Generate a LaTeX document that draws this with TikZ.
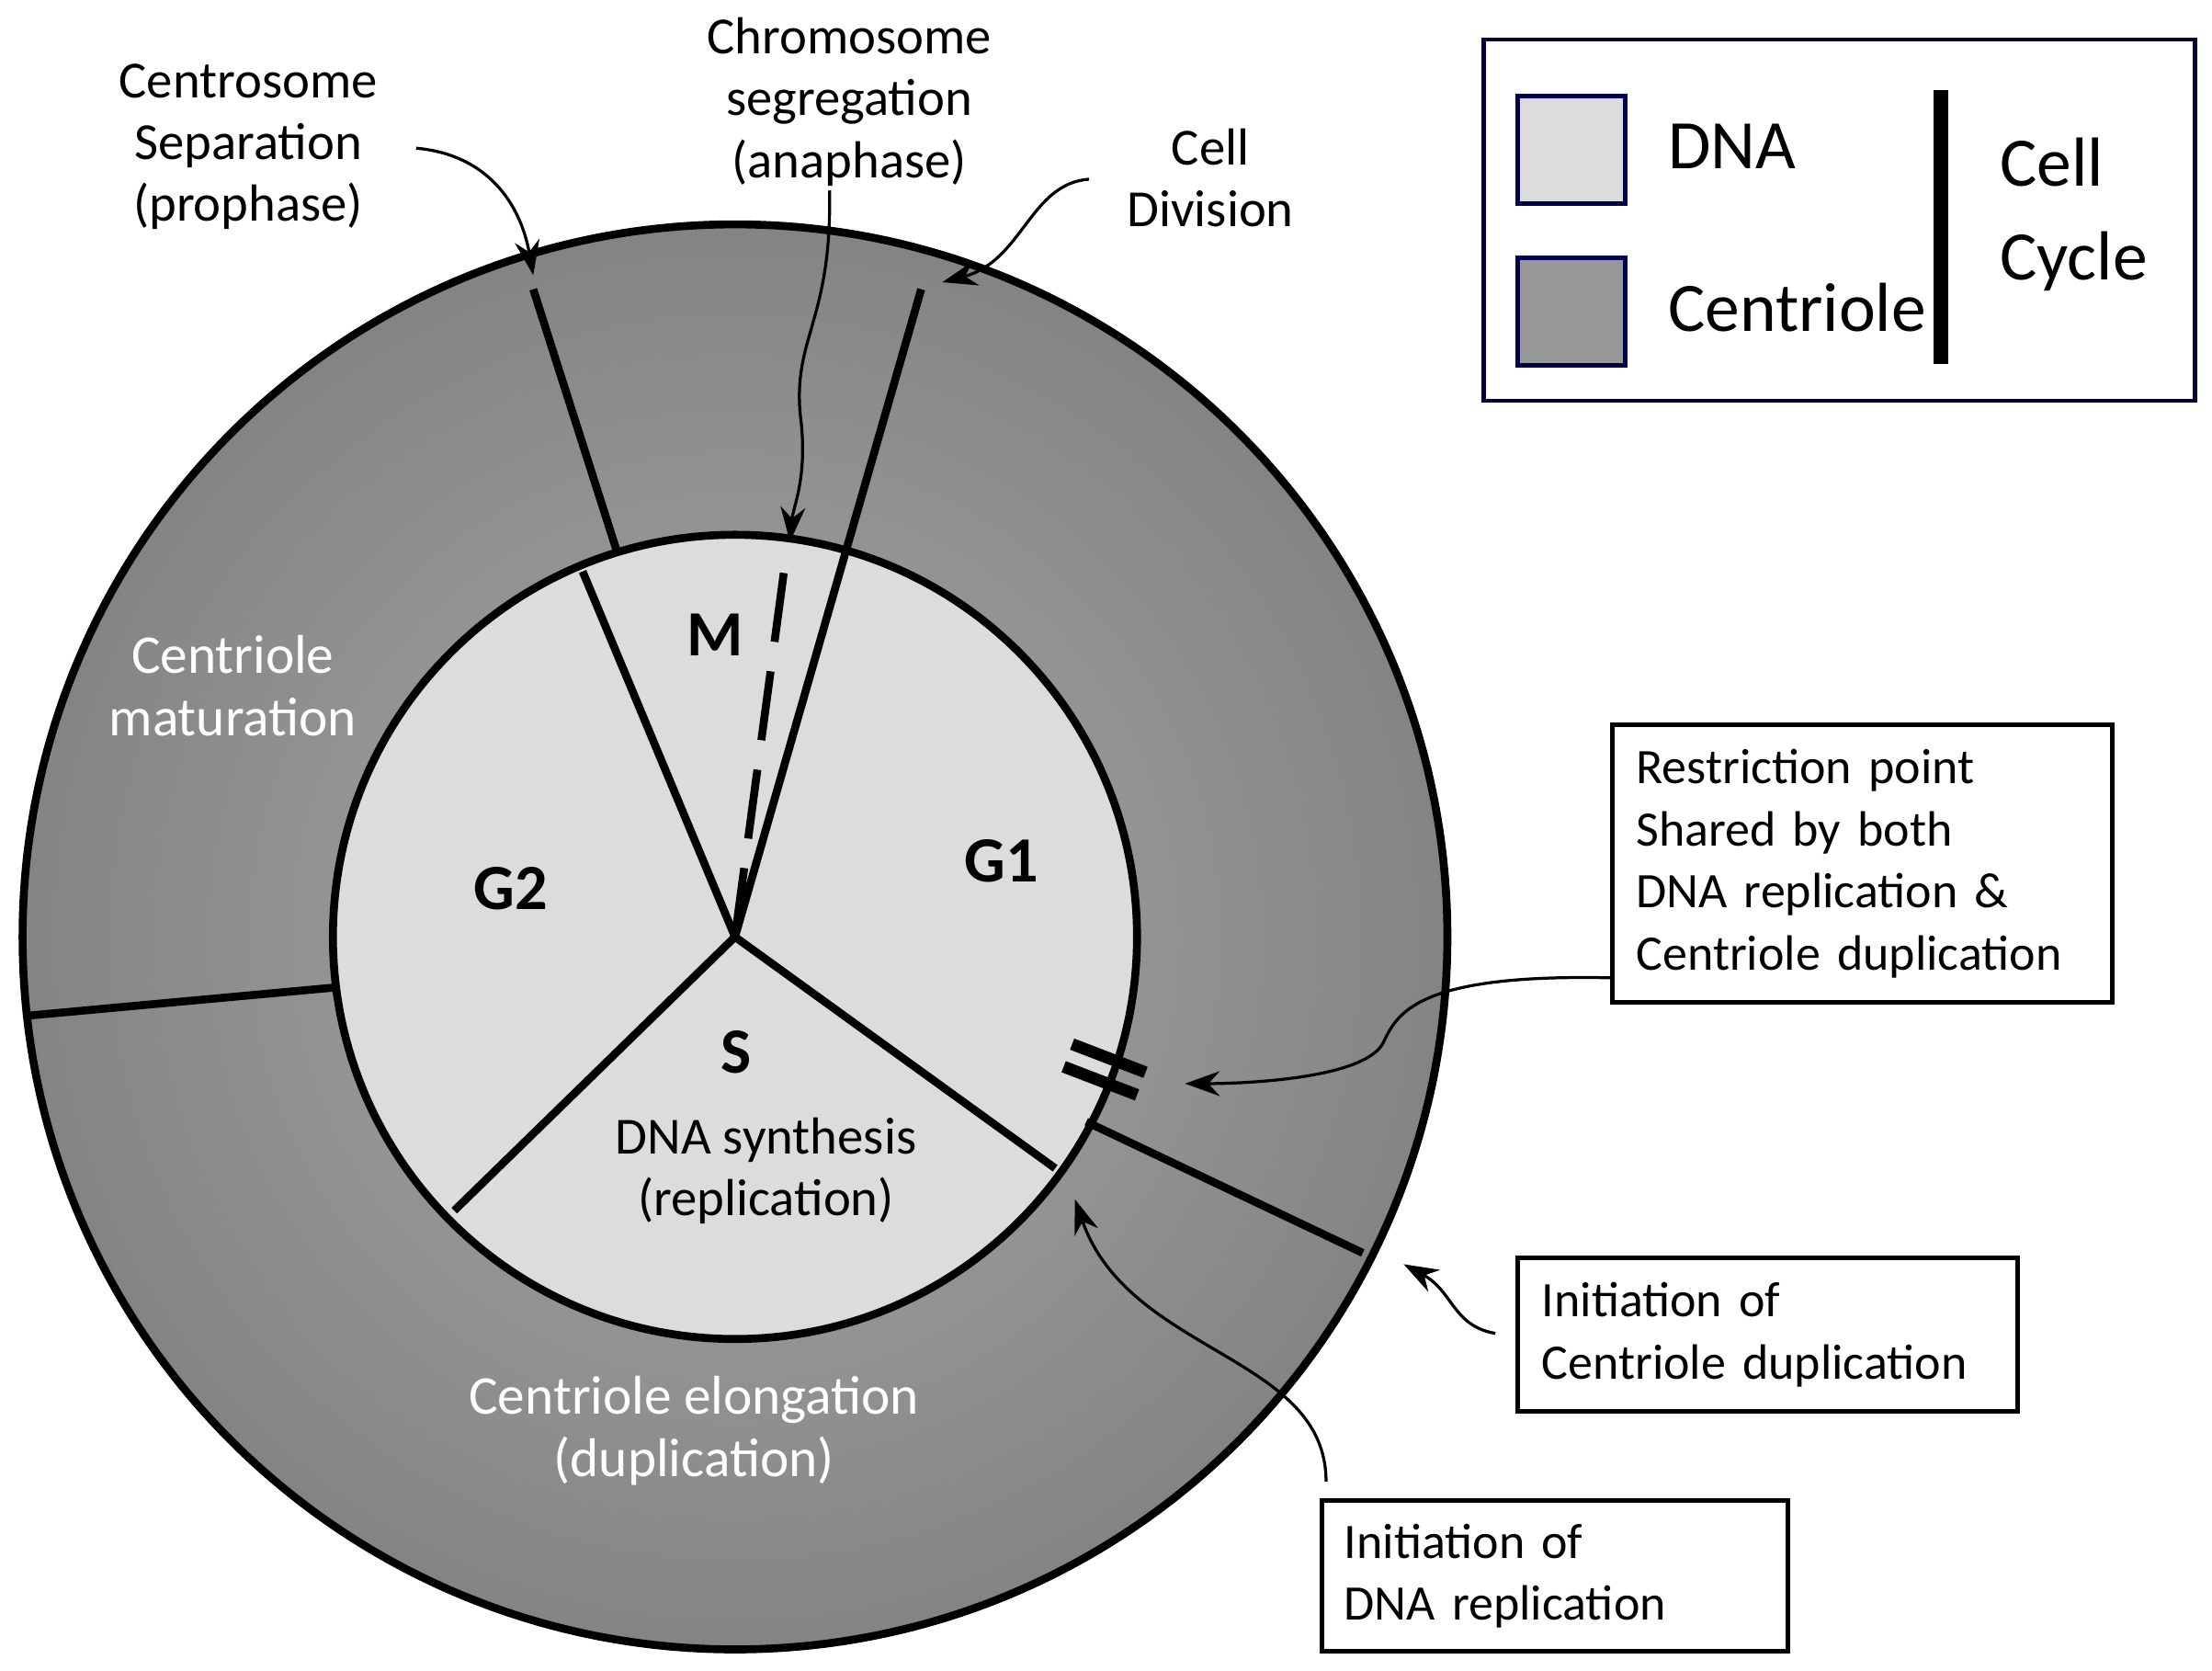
\documentclass[tikz,border=0pt]{standalone}
\usepackage{fontspec}
\setmainfont{Carlito}
\usetikzlibrary{arrows.meta}
\definecolor{outerg}{HTML}{A8A8A8}
\definecolor{outere}{HTML}{848484}
\definecolor{innerg}{HTML}{DCDCDC}
\begin{document}
\begin{tikzpicture}[x=0.01cm,y=-0.01cm,
  lbl/.style={font=\fontsize{10.5}{12.5}\selectfont,align=center},
  wl/.style={font=\fontsize{11}{12.5}\selectfont,align=center,text=white},
  ph/.style={font=\fontsize{13}{15}\selectfont\bfseries},
  box/.style={draw,line width=0.9pt,font=\fontsize{10}{12.5}\selectfont,align=left,inner sep=0pt},
  arr/.style={-{Stealth[length=7pt,width=5pt]},line width=0.6pt},
  seg/.style={line width=1.6pt},
  leg/.style={draw=black!70!blue,line width=0.9pt,minimum size=0.76cm,inner sep=0pt}]
\useasboundingbox (0,0) rectangle (1568,1184);
\coordinate (C) at (521,664);
% outer ring
\shade[inner color=outerg, outer color=outere] (C) circle (505);
\draw[line width=1.6pt] (C) circle (505);
% inner
\fill[innerg] (C) circle (285);
\draw[line width=1.6pt] (C) circle (285);
% boundaries
\coordinate (mg2) at (413,405);
\coordinate (g2s) at (322,858);
\coordinate (sg1) at (748,828);
\coordinate (out1) at (653,205);
\draw[seg] (C) -- (mg2);
\draw[seg] (C) -- (g2s);
\draw[seg] (C) -- (sg1);
\draw[seg] (C) -- (out1);
\draw[seg,dash pattern=on 14pt off 6pt] (C) -- (558,388);
\draw[seg] (378,205) -- (438,393);
\draw[seg] (18,720) -- (236,700);
\draw[seg] (770,795) -- (966,888);
% restriction mark
\draw[line width=2.4pt] (760,740) -- (812,760);
\draw[line width=2.4pt] (754,756) -- (806,776);
% phase labels
\node[ph] (M) at (507,450) {M};
\node[ph] (G1) at (710,610) {G1};
\node[ph] (G2) at (362,630) {G2};
\node[ph] (S) at (522,746) {S};
\node[lbl] (dsyn) at (543,830) {DNA synthesis\\(replication)};
\node[wl] (cmat) at (165,486) {Centriole\\maturation};
\node[wl] (celo) at (492,1014) {Centriole elongation\\(duplication)};
% top labels
\node[lbl] (csep) at (176,104) {Centrosome\\Separation\\(prophase)};
\node[lbl] (cseg) at (602,72) {Chromosome\\segregation\\(anaphase)};
\node[lbl] (cdiv) at (858,126) {Cell\\Division};
\draw[arr] (295,105) .. controls (350,110) and (370,150) .. (378,195);
\draw[arr] (588,135) .. controls (590,230) and (560,240) .. (568,300) .. controls (572,340) and (562,360) .. (560,384);
\draw[arr] (772,127) .. controls (730,130) and (725,185) .. (668,200);
% legend
\draw[line width=0.9pt,draw=black!80!blue] (1052,28) rectangle (1556,284);
\node[leg,fill=innerg] (lgdna) at (1114,106) {};
\node[leg,fill=outerg!90!black] (lgcen) at (1114,221) {};
\node[font=\fontsize{14}{16}\selectfont,anchor=west] (tdna) at (1170,104) {DNA};
\node[font=\fontsize{14}{16}\selectfont,anchor=west] (tcen) at (1170,218) {Centriole};
\draw[line width=3pt] (1376,64) -- (1376,258);
\node[font=\fontsize{14}{19}\selectfont,align=left] (tcc) at (1470,152) {Cell\\Cycle};
% boxes
\node[box,minimum width=3.54cm,minimum height=1.97cm,text width=3.2cm] (rp) at (1320,612) {Restriction point\\Shared by both\\DNA replication \&\\Centriole duplication};
\node[box,minimum width=3.54cm,minimum height=1.09cm,text width=3.2cm] (icd) at (1253,946) {Initiation of\\Centriole duplication};
\node[box,minimum width=3.30cm,minimum height=1.07cm,text width=2.98cm] (idr) at (1102,1117) {Initiation of\\DNA replication};
\draw[arr] (rp.west |- 0,693) .. controls (1000,690) and (990,720) .. (980,740) .. controls (965,765) and (880,768) .. (840,768);
\draw[arr] (1060,945) .. controls (1030,940) and (1030,915) .. (995,896);
\draw[arr] (940,1050) .. controls (940,960) and (800,960) .. (762,850);
\end{tikzpicture}
\end{document}
